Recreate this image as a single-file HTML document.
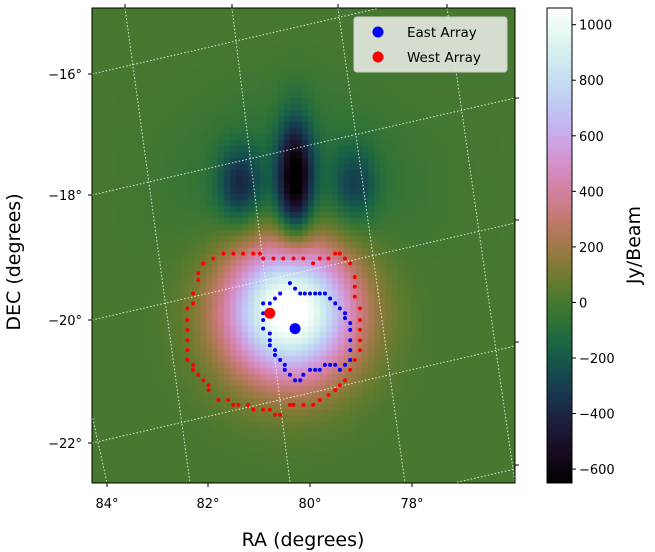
<!DOCTYPE html>
<html><head><meta charset="utf-8">
<style>
html,body{margin:0;padding:0;background:#fff;}
#wrap{position:relative;width:655px;height:552px;overflow:hidden;font-family:"DejaVu Sans","Liberation Sans",sans-serif;}
canvas{position:absolute;}
svg{position:absolute;left:0;top:0;font-family:"DejaVu Sans","Liberation Sans",sans-serif;}
</style></head>
<body>
<div id="wrap">
<canvas id="heat" width="423" height="475" style="left:92px;top:8px;"></canvas>
<canvas id="cbar" width="25" height="475" style="left:547px;top:8px;"></canvas>
<svg id="svg" width="655" height="552"></svg>
</div>
<script>
// ---- data ----
const compRA   = [80.39, 80.29, 81.36, 79.13, 80.30];
const compDec  = [-19.84, -17.72, -17.80, -17.80, -17.90];
const compSRA  = [0.90, 0.24, 0.30, 0.30, 1.50];
const compSDec = [0.80, 0.65, 0.42, 0.42, 1.00];
const compAmp  = [1150, -640, -330, -240, -110];
const vmin = -650, vmax = 1060;
const cbTicks = [1000, 800, 600, 400, 200, 0, -200, -400, -600];
const raTicks = [84, 82, 80, 78];
const decTicks = [-16, -18, -20, -22];
const redRA  = [81.88,81.68,81.49,81.30,81.10,80.97,80.91,80.71,80.52,80.32,80.13,79.94,79.81,79.64,79.51,79.42,79.32,79.22,79.13,79.13,79.13,79.03,79.03,79.03,79.03,79.03,79.13,79.22,79.32,79.42,79.51,79.64,79.81,79.94,80.13,80.32,80.39,80.58,80.68,80.78,80.91,81.10,81.20,81.39,81.49,81.59,81.78,81.97,81.97,82.07,82.17,82.27,82.27,82.38,82.38,82.38,82.38,82.38,82.38,82.27,82.27,82.17,82.17,82.07];
const redDec = [-19.00,-18.92,-18.92,-18.92,-18.92,-18.92,-19.00,-19.00,-19.00,-19.00,-19.00,-19.08,-19.00,-19.00,-18.92,-18.92,-19.00,-19.08,-19.30,-19.46,-19.62,-19.81,-20.00,-20.16,-20.33,-20.49,-20.65,-20.81,-20.98,-21.06,-21.14,-21.22,-21.30,-21.38,-21.38,-21.38,-21.38,-21.54,-21.54,-21.46,-21.46,-21.46,-21.38,-21.38,-21.38,-21.30,-21.30,-21.14,-21.06,-20.98,-20.89,-20.81,-20.73,-20.65,-20.49,-20.33,-20.16,-20.00,-19.81,-19.73,-19.57,-19.35,-19.24,-19.08];
const blueRA  = [80.39,80.58,80.68,80.78,80.91,80.91,80.91,80.91,80.78,80.78,80.78,80.68,80.68,80.58,80.49,80.49,80.39,80.29,80.19,80.13,80.00,79.90,79.81,79.71,79.61,79.51,79.42,79.32,79.22,79.22,79.22,79.22,79.22,79.32,79.32,79.42,79.51,79.61,79.71,79.81,79.90,80.00,80.10,80.19,80.29];
const blueDec = [-19.40,-19.57,-19.65,-19.73,-19.73,-19.89,-20.00,-20.14,-20.22,-20.33,-20.41,-20.49,-20.57,-20.65,-20.73,-20.81,-20.89,-20.98,-20.98,-20.89,-20.81,-20.81,-20.81,-20.73,-20.73,-20.73,-20.81,-20.73,-20.65,-20.49,-20.33,-20.16,-20.05,-19.97,-19.89,-19.81,-19.73,-19.65,-19.57,-19.57,-19.57,-19.57,-19.57,-19.57,-19.49];
const westCenter = [80.78, -19.89];
const eastCenter = [80.29, -20.14];

// ---- axes ----
const PX0 = 92, PY0 = 8, PW = 423, PH = 475;
function xOf(ra){ return 310 + (80 - ra) * 51.5; }
function yOf(dec){ return 320 - (dec + 20) * 61.5; }
function raOf(x){ return 80 - (x - 310) / 51.5; }
function decOf(y){ return -20 + (320 - y) / 61.5; }
function cbY(v){ return PY0 + PH - (v - vmin) / (vmax - vmin) * PH; }

function cubehelix(t){
  t = Math.max(0, Math.min(1, t));
  const a = t * (1 - t) / 2, phi = 2 * Math.PI * (0.5 / 3 - 1.5 * t);
  const c = Math.cos(phi), s = Math.sin(phi);
  const r = t + a * (-0.14861 * c + 1.78277 * s);
  const g = t + a * (-0.29227 * c - 0.90649 * s);
  const b = t + a * (1.97294 * c);
  const cl = v => Math.round(255 * Math.max(0, Math.min(1, v)));
  return [cl(r), cl(g), cl(b)];
}
function valueAt(ra, dec){
  let v = 0;
  for (let i = 0; i < compAmp.length; i++) {
    const dx = (ra - compRA[i]) / compSRA[i], dy = (dec - compDec[i]) / compSDec[i];
    v += compAmp[i] * Math.exp(-0.5 * (dx * dx + dy * dy));
  }
  return v;
}
const hc = document.getElementById('heat').getContext('2d');
const cell = 6;
for (let y = 0; y < PH; y += cell) {
  for (let x = 0; x < PW; x += cell) {
    const v = valueAt(raOf(PX0 + x + cell / 2), decOf(PY0 + y + cell / 2));
    const c = cubehelix((v - vmin) / (vmax - vmin));
    hc.fillStyle = 'rgb(' + c.join(',') + ')';
    hc.fillRect(x, y, cell, cell);
  }
}
const cc = document.getElementById('cbar').getContext('2d');
for (let y = 0; y < PH; y++) {
  const v = vmax - (y / PH) * (vmax - vmin);
  const c = cubehelix((v - vmin) / (vmax - vmin));
  cc.fillStyle = 'rgb(' + c.join(',') + ')';
  cc.fillRect(0, y, 25, 1);
}

const svg = document.getElementById('svg');
const NS = 'http://www.w3.org/2000/svg';
function mk(tag, attrs, parent){
  const e = document.createElementNS(NS, tag);
  for (const k in attrs) e.setAttribute(k, attrs[k]);
  (parent || svg).appendChild(e);
  return e;
}
const gridG = mk('g', {stroke:'#ffffff', 'stroke-width':1, 'stroke-dasharray':'1.5,2', opacity:0.85});


const raTop = [125, 232, 338, 447], raBot = [190, 290, 405, 515];
for (let i = 0; i < raTop.length; i++) mk('line', {x1:raTop[i], y1:PY0, x2:raBot[i], y2:PY0+PH}, gridG);
mk('line', {x1:92, y1:415, x2:107, y2:483}, gridG);
const decL = [74, 195, 320, 443, 566];
for (let i = 0; i < decL.length; i++) {
  mk('line', {x1:PX0, y1:decL[i], x2:PX0+PW, y2:decL[i]-97}, gridG);
}
mk('rect', {x:0, y:0, width:655, height:PY0, fill:'#fff'});
mk('rect', {x:0, y:PY0+PH, width:545, height:552-PY0-PH, fill:'#fff'});
mk('rect', {x:PX0+PW, y:0, width:32, height:552, fill:'#fff'});
const frame = mk('rect', {x:PX0, y:PY0, width:PW, height:PH, fill:'none', stroke:'#000', 'stroke-width':1});


const tg = mk('g', {stroke:'#000', 'stroke-width':1});
const botTickX = [107, 208, 310, 412];
raTicks.forEach((ra, i) => {
  mk('line', {x1:botTickX[i], y1:PY0+PH, x2:botTickX[i], y2:PY0+PH+4}, tg);
  mk('line', {x1:raTop[i], y1:PY0, x2:raTop[i], y2:PY0-4}, tg);
  const t = mk('text', {x:botTickX[i], y:508, 'text-anchor':'middle', 'font-size':13, fill:'#000', stroke:'none'});
  t.textContent = ra + '°';
  
  
});
const rightTickY = [98, 220, 342, 465];
decTicks.forEach((d, i) => {
  const y = decL[i];
  mk('line', {x1:PX0, y1:y, x2:PX0-4, y2:y}, tg);
  mk('line', {x1:PX0+PW, y1:rightTickY[i], x2:PX0+PW+4, y2:rightTickY[i]}, tg);
  const t = mk('text', {x:82, y:y+5, 'text-anchor':'end', 'font-size':13, fill:'#000', stroke:'none'});
  t.textContent = '\u2212' + Math.abs(d) + '°';
  
  
});
const xl = mk('text', {x:303, y:546, 'text-anchor':'middle', 'font-size':19, fill:'#000'});
xl.textContent = 'RA (degrees)';


const yl = mk('text', {x:0, y:0, 'text-anchor':'middle', 'font-size':19, fill:'#000', transform:'translate(20,262) rotate(-90)'});
yl.textContent = 'DEC (degrees)';



function dots(ras, decs, color, name){
  const g = mk('g', {fill:color});
  
  
  for (let i = 0; i < ras.length; i++) {
    const c = mk('circle', {cx:xOf(ras[i]), cy:yOf(decs[i]), r:2}, g);
    
    
  }
}
dots(redRA, redDec, '#ff0000', 'west-array-outline');
dots(blueRA, blueDec, '#0000ff', 'east-array-outline');
const wc = mk('circle', {cx:xOf(westCenter[0]), cy:yOf(westCenter[1]), r:5.5, fill:'#ff0000'});


const ec = mk('circle', {cx:xOf(eastCenter[0]), cy:yOf(eastCenter[1]), r:5.5, fill:'#0000ff'});



const lg = mk('g', {});


mk('rect', {x:354, y:17, width:153, height:55, rx:3, fill:'#e4e8e0', 'fill-opacity':0.9, stroke:'#cccccc'}, lg);
const le1 = mk('g', {}, lg);


mk('circle', {cx:378, cy:32, r:5.5, fill:'#0000ff'}, le1);
const t1 = mk('text', {x:407, y:37, 'font-size':13.5, fill:'#000'}, le1);
t1.textContent = 'East Array';
const le2 = mk('g', {}, lg);


mk('circle', {cx:378, cy:57, r:5.5, fill:'#ff0000'}, le2);
const t2 = mk('text', {x:407, y:62, 'font-size':13.5, fill:'#000'}, le2);
t2.textContent = 'West Array';

const cbf = mk('rect', {x:547, y:PY0, width:25, height:PH, fill:'none', stroke:'#000', 'stroke-width':1});


cbTicks.forEach(v => {
  const y = cbY(v);
  mk('line', {x1:572, y1:y, x2:576, y2:y, stroke:'#000'});
  const t = mk('text', {x:579, y:y+5, 'font-size':13, fill:'#000'});
  t.textContent = v < 0 ? '\u2212' + Math.abs(v) : String(v);
  
  
});
const cbl = mk('text', {x:0, y:0, 'text-anchor':'middle', 'font-size':19, fill:'#000', transform:'translate(640,245) rotate(-90)'});
cbl.textContent = 'Jy/Beam';


</script>
</body></html>
